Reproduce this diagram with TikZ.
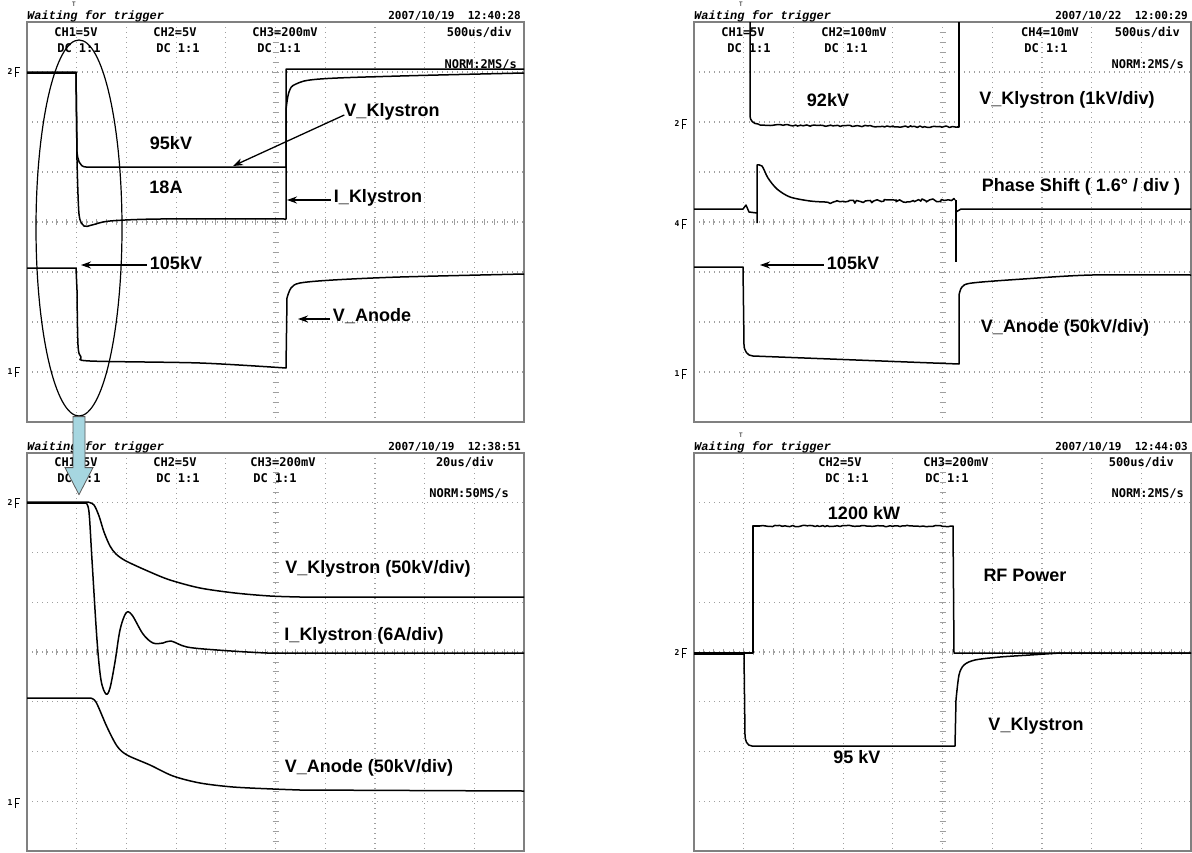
\documentclass[tikz,border=0pt]{standalone}
\usepackage{fontspec}
\setmainfont{Liberation Sans}
\newfontfamily\scopefont{DejaVu Sans Mono}
\newfontfamily\headfont{Liberation Mono}
\usetikzlibrary{arrows.meta,shapes.geometric,decorations.pathmorphing}

\definecolor{zoomblue}{RGB}{166,214,224}

\tikzset{
  gridline/.style={gray!75, line width=1.2pt, dash pattern=on 1.2pt off 3.8pt},
  ticks/.style={gray!75, line width=0.9pt},
  frame/.style={gray, line width=1.5pt},
  trace/.style={black, line width=1.5pt, line join=round},
  noisy/.style={decorate, decoration={random steps, segment length=2.5pt, amplitude=#1}},
  noisy/.default=1pt,
  lbl/.style={font=\fontsize{18}{20}\selectfont\bfseries, inner sep=0pt},
  scopetxt/.style={font=\scopefont\fontsize{12}{14}\selectfont\bfseries, inner sep=0pt},
  headtxt/.style={font=\headfont\fontsize{12}{13}\selectfont\bfseries\itshape, inner sep=0pt, anchor=base west},
  datetxt/.style={font=\scopefont\fontsize{11}{13}\selectfont\bfseries, inner sep=0pt, anchor=base east},
  pointer/.style={-{Stealth[length=10pt,width=7pt]}, line width=1.3pt},
}

% screen of the scope, top left corner (#1,#2), height #3
\newcommand{\scopescreen}[3]{%
  \begin{scope}[shift={(#1,#2)}]
    \foreach \i in {1,...,9} \draw[gridline] (\i*49.7,0) -- (\i*49.7,#3);
    \foreach \j in {1,...,7} \draw[gridline] (0,\j*#3/8) -- (497,\j*#3/8);
    \foreach \k in {1,...,49} \draw[ticks] (\k*9.94,#3/2-3) -- (\k*9.94,#3/2+3);
    \foreach \k in {1,...,39} \draw[ticks] (245.5,\k*#3/40) -- (251.5,\k*#3/40);
    \draw[frame] (0,0) rectangle (497,#3);
  \end{scope}}

% header line above a screen
\newcommand{\scopehead}[4]{%
  \node[headtxt] (wait#1) at (#2,#3-3) {Waiting for trigger};
  \node[datetxt] (date#1) at (#2+494,#3-3) {#4};
  \node[font=\scopefont\fontsize{6}{6}\selectfont, inner sep=0pt] (trig#1) at (#2+47,#3-18) {T};}

% channel marker at the left border
\newcommand{\chmark}[4]{%
  \node[font=\scopefont\fontsize{8}{8}\selectfont\bfseries, inner sep=0pt] (#1) at (#2,#3) {#4};
  \draw[line width=0.9pt] (#2+5,#3+5) -- (#2+5,#3-5) -- (#2+10,#3-5) (#2+5,#3) -- (#2+9,#3);}

\begin{document}
\begin{tikzpicture}[x=1pt,y=-1pt]
  \fill[white] (0,0) rectangle (1192,852);
  \useasboundingbox (0,0) rectangle (1192,852);
  \pgfmathsetseed{11}

  \scopescreen{27}{22}{400}
  \scopescreen{694}{22}{400}
  \scopescreen{27}{453}{398}
  \scopescreen{694}{453}{398}

  \scopehead{A}{27}{22}{2007/10/19\ \ 12:40:28}
  \scopehead{B}{694}{22}{2007/10/22\ \ 12:00:29}
  \scopehead{C}{27}{453}{2007/10/19\ \ 12:38:51}
  \scopehead{D}{694}{453}{2007/10/19\ \ 12:44:03}

  \chmark{mkA2}{10}{72}{2}
  \chmark{mkA1}{10}{372}{1}
  \chmark{mkB2}{677}{124}{2}
  \chmark{mkB4}{677}{224}{4}
  \chmark{mkB1}{677}{374}{1}
  \chmark{mkC2}{10}{503}{2}
  \chmark{mkC1}{10}{803}{1}
  \chmark{mkD2}{677}{653}{2}

  % channel settings
  \node[scopetxt] (ch1A) at (76,32) {CH1=5V};
  \node[scopetxt] (dc1A) at (79,48) {DC 1:1};
  \node[scopetxt] (ch2A) at (175,32) {CH2=5V};
  \node[scopetxt] (dc2A) at (178,48) {DC 1:1};
  \node[scopetxt] (ch3A) at (285,32) {CH3=200mV};
  \node[scopetxt] (dc3A) at (279,48) {DC 1:1};
  \node[scopetxt, anchor=east] (tbA) at (512,32) {500us/div};
  \node[scopetxt, anchor=east] (normA) at (517,65) {NORM:2MS/s};

  \node[scopetxt] (ch1B) at (743,32) {CH1=5V};
  \node[scopetxt] (dc1B) at (749,48) {DC 1:1};
  \node[scopetxt] (ch2B) at (854,32) {CH2=100mV};
  \node[scopetxt] (dc2B) at (846,48) {DC 1:1};
  \node[scopetxt] (ch4B) at (1050,32) {CH4=10mV};
  \node[scopetxt] (dc4B) at (1046,48) {DC 1:1};
  \node[scopetxt, anchor=east] (tbB) at (1180,32) {500us/div};
  \node[scopetxt, anchor=east] (normB) at (1184,65) {NORM:2MS/s};

  \node[scopetxt] (ch1C) at (76,462) {CH1=5V};
  \node[scopetxt] (dc1C) at (79,478) {DC 1:1};
  \node[scopetxt] (ch2C) at (175,462) {CH2=5V};
  \node[scopetxt] (dc2C) at (178,478) {DC 1:1};
  \node[scopetxt] (ch3C) at (283,462) {CH3=200mV};
  \node[scopetxt] (dc3C) at (275,478) {DC 1:1};
  \node[scopetxt, anchor=east] (tbC) at (494,462) {20us/div};
  \node[scopetxt, anchor=east] (normC) at (509,494) {NORM:50MS/s};

  \node[scopetxt] (ch2D) at (840,462) {CH2=5V};
  \node[scopetxt] (dc2D) at (847,478) {DC 1:1};
  \node[scopetxt] (ch3D) at (956,462) {CH3=200mV};
  \node[scopetxt] (dc3D) at (947,478) {DC 1:1};
  \node[scopetxt, anchor=east] (tbD) at (1174,462) {500us/div};
  \node[scopetxt, anchor=east] (normD) at (1184,494) {NORM:2MS/s};

  % top left: long pulse
  \draw[trace] (27,72) -- (76,72) -- (77,152) to[out=-85,in=180] (86,167) -- (286,167) -- (286,69) -- (524,69);
  \draw[trace] (27,73) -- (76,73) -- plot[smooth,tension=.5] coordinates {(77,160) (79,214) (84,226) (92,225) (110,221) (160,219) (286,219)}
    -- (286,110) -- plot[smooth,tension=.6] coordinates {(286,110) (289,92) (296,84) (320,79) (400,76) (524,73)};
  \draw[trace] (27,268) -- (76,268) -- plot[smooth,tension=.5] coordinates {(77,290) (78,345) (81,357) (90,361) (200,363) (286,368)}
    -- (287,298) -- plot[smooth,tension=.5] coordinates {(287,298) (291,288) (300,283) (333,280) (400,277) (524,274)};

  \node[lbl] (kvA) at (171,143) {95kV};
  \node[lbl] (ampA) at (166,187) {18A};
  \node[lbl] (vklyA) at (392,112) {V\_Klystron};
  \node[lbl] (iklyA) at (378,198) {I\_Klystron};
  \node[lbl] (kvB) at (176,263) {105kV};
  \node[lbl] (vanA) at (372,316) {V\_Anode};
  \coordinate (vklyAend) at (233,166);
  \coordinate (iklyAend) at (287,200);
  \coordinate (kvBend) at (81,265);
  \coordinate (vanAend) at (298,319);
  \draw[pointer] ([yshift=-3pt]vklyA.west) -- (vklyAend);
  \draw[pointer] ([xshift=-3pt,yshift=-2pt]iklyA.west) -- (iklyAend);
  \draw[pointer] ([xshift=-3pt,yshift=-2pt]kvB.west) -- (kvBend);
  \draw[pointer] ([xshift=-3pt,yshift=-3pt]vanA.west) -- (vanAend);

  % top right: phase shift
  \draw[trace] (750,22) -- (750,116) to[out=-90,in=180] (758,124) -- (760,125);
  \draw[trace, noisy=0.8pt] (760,125) -- (957,127);
  \draw[trace] (957,127) -- (959,127) -- (959,22);
  \draw[trace] (694,209) -- (743,209) -- (746,205) -- (749,212) -- (757,213);
  \draw[trace] (757,223) -- (757,165) -- plot[smooth,tension=.5] coordinates {(757,165) (762,166) (768,178) (777,189) (790,197) (810,201) (825,202)};
  \draw[trace, noisy=1.6pt] (825,202) -- (955,200);
  \draw[trace] (956,200) -- (956,262);
  \draw[trace] (956,212) -- (961,209) -- (1191,209);
  \draw[trace] (694,267) -- (743,267) -- (744,345) to[out=-90,in=180] (753,356) -- (959,364) -- (959,295)
    -- plot[smooth,tension=.5] coordinates {(959,295) (962,287) (972,283) (1023,279) (1092,275) (1191,275)};

  \node[lbl] (kvC) at (828,100) {92kV};
  \node[lbl] (vklyC) at (1067,100) {V\_Klystron (1kV/div)};
  \node[lbl] (phase) at (1081,187) {Phase Shift ( 1.6° / div )};
  \node[lbl] (kvD) at (853,263) {105kV};
  \node[lbl] (vanC) at (1065,328) {V\_Anode (50kV/div)};
  \coordinate (kvDend) at (760,265);
  \draw[pointer] ([xshift=-3pt,yshift=-2pt]kvD.west) -- (kvDend);

  % bottom left: rising edge zoomed
  \draw[trace] (27,502) -- (88,502) -- plot[smooth,tension=.5] coordinates {(88,502) (94,505) (99,516) (104,532) (110,546) (116,554) (126,561) (150,572) (170,580) (200,588) (235,593) (270,596) (300,597)} -- (524,597);
  \draw[trace] (27,503) -- (86,503) -- plot[smooth,tension=.55] coordinates {(86,503) (89,512) (92,560) (97,640) (101,680) (106,694) (110,688) (115,662) (120,630) (126,613) (132,615) (143,634) (153,643) (163,643) (171,641) (187,647) (217,650) (267,653) (300,653)} -- (524,653);
  \draw[trace] (27,698) -- (90,698) -- plot[smooth,tension=.5] coordinates {(90,698) (96,702) (107,727) (117,746) (127,755) (150,765) (173,776) (200,783) (233,787) (273,789) (300,790)} -- (524,791);

  \node[lbl] (vklyE) at (378,569) {V\_Klystron (50kV/div)};
  \node[lbl] (iklyE) at (364,636) {I\_Klystron (6A/div)};
  \node[lbl] (vanE) at (369,768) {V\_Anode (50kV/div)};

  % bottom right: rf power
  \draw[trace] (694,653) -- (753,653) -- (753,526) -- (760,526);
  \draw[trace, noisy=0.7pt] (760,526) -- (951,526);
  \draw[trace] (951,526) -- (953,526) -- (954,653) -- (1191,653);
  \draw[trace] (694,654) -- (744,654) -- (745,735) to[out=-90,in=180] (752,746) -- (955,746) -- (956,700)
    -- plot[smooth,tension=.5] coordinates {(956,700) (959,675) (964,665) (975,660) (1000,657) (1030,655) (1060,653)} -- (1191,653);

  \node[lbl] (kwF) at (864,513) {1200 kW};
  \node[lbl] (rfF) at (1025,575) {RF Power};
  \node[lbl] (vklyF) at (1036,726) {V\_Klystron};
  \node[lbl] (kvF) at (857,757) {95 kV};

  % zoom ring and arrow
  \node[draw, ellipse, line width=1.2pt, minimum width=86pt, minimum height=376pt, inner sep=0pt] (zoomring) at (79,228) {};
  \coordinate (tail) at (zoomring.south);
  \draw[fill=zoomblue, draw=gray!70!black, line width=0.8pt] ([xshift=-6pt]tail) -- ++(0,51) -- ++(-8,0) -- ++(14,27) -- ++(14,-27) -- ++(-8,0) -- ++(0,-51) -- cycle;
\end{tikzpicture}
\end{document}
